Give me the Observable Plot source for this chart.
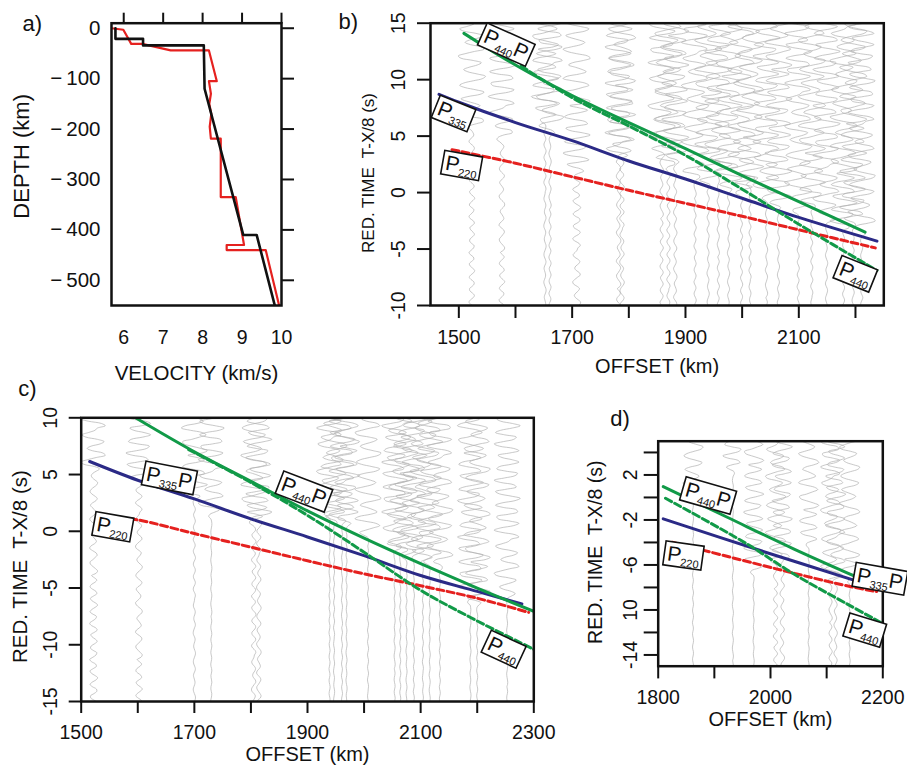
<!DOCTYPE html>
<html><head><meta charset="utf-8">
<script src="https://cdn.jsdelivr.net/npm/d3@7"></script>
<script src="https://cdn.jsdelivr.net/npm/@observablehq/plot@0.6"></script>
<style>
body{margin:0;background:#fff;}
#wrap{position:relative;width:907px;height:773px;overflow:hidden;background:#fff;}
</style></head><body><div id="wrap"></div>
<script>
const FONT = "'Liberation Sans', Arial, Helvetica, sans-serif";
const GREEN = "#119a48", BLUE = "#2b2a86", RED = "#e5211f", TRACE = "#b0b0b0";
const TICK_FONT = 19.5;

// ---------- panel a: velocity-depth models ----------
const aBlackVel   = [5.79, 5.79, 6.49, 6.49, 8.03, 8.05, 9.03, 9.37, 9.83];
const aBlackDepth = [0, -21, -21, -34, -34, -120, -410, -410, -550];
const aRedVel   = [5.69, 5.99, 6.19, 6.47, 7.19, 8.16, 8.36, 8.16, 8.21, 8.17, 8.22, 8.18, 8.21, 8.46, 8.46, 8.84, 9.05, 8.61, 8.61, 9.6, 9.94];
const aRedDepth = [0, -3, -31, -31, -44, -44, -105, -105, -130, -150, -170, -195, -219, -219, -335, -335, -430, -430, -440, -440, -550];
const aXTicks = [6, 7, 8, 9, 10];
const aXLabels = ["6", "7", "8", "9", "10"];
const aYTicks = [0, -100, -200, -300, -400, -500];
const aYLabels = ["0", "\u2212\u2009100", "\u2212\u2009200", "\u2212\u2009300", "\u2212\u2009400", "\u2212\u2009500"];

// ---------- shared trace noise samples (hand-typed) ----------
const NOISE = [0.3, 0.9, 0.6, -0.4, -1.0, -0.5, 0.5, 0.9, 0.2, -0.7, -0.8, 0.1, 0.8, 0.7, -0.3, -0.9,
  -0.4, 0.6, 1.0, 0.3, -0.6, -0.9, -0.1, 0.7, 0.5, -0.5, -1.0, -0.2, 0.6, 0.8, -0.1, -0.8,
  -0.6, 0.3, 0.9, 0.4, -0.4, -0.7, 0.2, 0.9, 0.5, -0.6, -1.0, -0.3, 0.5, 0.7, -0.2, -0.9,
  -0.5, 0.4, 1.0, 0.4, -0.5, -0.8, 0.0, 0.8, 0.6, -0.3, -0.9, -0.6, 0.3, 0.8, 0.2, -0.5,
  0.6, 1.0, 0.5, -0.2, -0.8, -0.9, -0.2, 0.4, 0.9, 0.6, -0.3, -1.0, -0.7, 0.2, 0.7, 0.4,
  -0.1, -0.6, -0.3, 0.5, 1.0, 0.8, 0.0, -0.7, -1.0, -0.4, 0.3, 0.6, 0.2, -0.4, -0.8, -0.3,
  0.6, 0.9, 0.3, -0.5, -0.9, -0.6, 0.1, 0.8, 1.0, 0.4, -0.3, -0.6, -0.2, 0.4, 0.7, 0.1,
  -0.8, -1.0, -0.5, 0.2, 0.9, 0.7, -0.1, -0.5, -0.2, 0.5, 0.8, 0.3, -0.6, -0.9, -0.4, 0.1];
const STEP = 0.2;

// ---------- panel b ----------
const bTraceOffsets = [1523, 1576, 1652, 1661, 1708, 1782, 1788, 1858, 1870, 1882, 1917, 1940, 1958, 1976, 1999, 2014, 2043, 2064, 2099, 2123, 2149, 2179, 2196, 2211];
const bTraceOnsets  = [5.5, 4.5, 6.0, 5.0, 1.5, 2.5, 3.0, 3.0, 2.0, 2.5, 1.0, 0.5, 1.5, 0.0, -0.5, 0.5, -1.0, -1.5, -2.0, -1.5, -3.0, -3.5, -3.0, -4.0];
const bTraceQuiet   = [5, 5, 2, 2, 7, 4, 4, 3, 3, 3, 2, 2, 2, 2, 2, 2, 2, 2, 2, 2, 2, 2, 2, 2];
const bTraceShift   = [0, 37, 75, 18, 100, 53, 91, 22, 118, 69, 13, 96, 39, 87, 6, 114, 57, 84, 31, 121, 63, 2, 108, 44];
const bP440PX = [1509, 1600, 1700, 1800, 1900, 2000, 2100, 2217];
const bP440PY = [14.1, 11.3, 8.6, 6.2, 3.9, 1.5, -0.8, -3.5];
const bP440X  = [1610, 1700, 1800, 1900, 2000, 2100, 2238];
const bP440Y  = [11.2, 8.4, 5.9, 3.3, 0.3, -2.8, -6.9];
const bP335X  = [1465, 1500, 1600, 1700, 1800, 1900, 2000, 2100, 2238];
const bP335Y  = [8.7, 8.0, 6.2, 4.6, 2.8, 1.2, -0.5, -2.2, -4.3];
const bP220X  = [1488, 1600, 1700, 1800, 1900, 2000, 2100, 2235];
const bP220Y  = [3.8, 2.6, 1.4, 0.2, -0.95, -2.1, -3.3, -4.9];
const bXTicks = [1500, 1600, 1700, 1800, 1900, 2000, 2100, 2200];
const bXLabels = ["1500", "", "1700", "", "1900", "", "2100", ""];
const bYTicks = [-10, -5, 0, 5, 10, 15];
const bYLabels = ["-10", "-5", "0", "5", "10", "15"];
const bLabels = [
  {x: 1585, y: 13.1, sub: "440", tail: "P", rot: 24},
  {x: 1492, y: 7.0, sub: "335", tail: "", rot: 22},
  {x: 1506, y: 2.4, sub: "220", tail: "", rot: 10},
  {x: 2201, y: -7.2, sub: "440", tail: "", rot: 22}];

// ---------- panel c ----------
const cTraceOffsets = [1522, 1602, 1700, 1730, 1805, 1814, 1939, 1947, 1961, 1969, 2007, 2054, 2064, 2075, 2088, 2104, 2116, 2134, 2188, 2200, 2253];
const cTraceOnsets  = [5.0, 4.0, 2.5, 1.0, 0.5, 0.5, 1.0, 0.5, 0.5, 0.3, -0.8, -2.0, -2.3, -2.6, -2.5, -3.0, -3.2, -3.5, -6.5, -6.7, -6.1];
const cTraceQuiet   = [7, 6, 2, 1, 4, 4, 1, 1, 1, 1, 1, 1, 1, 1, 1, 1, 1, 1, 1, 1, 1];
const cTraceShift   = [5, 42, 80, 23, 105, 60, 9, 97, 28, 76, 120, 46, 3, 88, 35, 112, 61, 17, 79, 127, 54];
const cP440PX = [1596, 1700, 1800, 1900, 2000, 2100, 2200, 2300];
const cP440PY = [10.0, 7.0, 4.4, 1.8, -0.6, -2.85, -5.0, -7.06];
const cP440X  = [1690, 1800, 1900, 2000, 2100, 2200, 2300];
const cP440Y  = [7.2, 4.3, 1.4, -1.85, -5.2, -7.9, -10.4];
const cP335X  = [1515, 1600, 1700, 1800, 1900, 2000, 2100, 2200, 2279];
const cP335Y  = [6.15, 4.5, 2.85, 1.1, -0.5, -2.15, -3.9, -5.3, -6.4];
const cP220X  = [1549, 1600, 1700, 1800, 1900, 2000, 2100, 2200, 2291];
const cP220Y  = [1.25, 1.0, -0.2, -1.4, -2.6, -3.75, -4.8, -5.9, -7.15];
const cXTicks = [1500, 1600, 1700, 1800, 1900, 2000, 2100, 2200, 2300];
const cXLabels = ["1500", "", "1700", "", "1900", "", "2100", "", "2300"];
const cYTicks = [-15, -10, -5, 0, 5, 10];
const cYLabels = ["-15", "-10", "-5", "0", "5", "10"];
const cLabels = [
  {x: 1657, y: 4.7, sub: "335", tail: "P", rot: 11},
  {x: 1895, y: 3.5, sub: "440", tail: "P", rot: 21},
  {x: 1557, y: 0.4, sub: "220", tail: "", rot: 10},
  {x: 2248, y: -10.4, sub: "440", tail: "", rot: 25}];

// ---------- panel d ----------
const dTraceOffsets = [1862, 1933, 1970, 2009, 2021, 2068, 2107, 2116, 2141];
const dTraceOnsets  = [-0.7, 2.0, -7.0, -6.0, -6.0, -4.5, -8.0, -8.0, -7.7];
const dTraceQuiet   = [1, 1, 1, 4, 4, 1, 3, 3, 1];
const dTraceShift   = [4, 58, 99, 26, 78, 119, 41, 67, 13];
const dP440PX = [1809, 1923, 2041, 2154];
const dP440PY = [0.97, -1.76, -4.57, -7.09];
const dP440X  = [1813, 1958, 2041, 2136, 2199];
const dP440Y  = [-0.07, -4.13, -6.79, -9.46, -11.18];
const dP335X  = [1809, 1982, 2151];
const dP335Y  = [-1.9, -4.72, -7.39];
const dP220X  = [1825, 2041, 2148, 2189];
const dP220Y  = [-3.98, -6.73, -7.98, -8.36];
const dXTicks = [1800, 1900, 2000, 2100, 2200];
const dXLabels = ["1800", "", "2000", "", "2200"];
const dYTicks = [4, 2, 0, -2, -4, -6, -8, -10, -12, -14];
const dYLabels = ["", "2", "", "-2", "", "-6", "", "10", "", "-14"];
const dLabels = [
  {x: 1890, y: 0.17, sub: "440", tail: "P", rot: 16},
  {x: 1846, y: -5.16, sub: "220", tail: "", rot: 8},
  {x: 2196, y: -7.23, sub: "335", tail: "P", rot: 10},
  {x: 2169, y: -11.8, sub: "440", tail: "", rot: 17}];

// ---------- helpers ----------
const pts = (xs, ys) => xs.map((x, i) => ({x, y: ys[i]}));
const fmt = (ticks, labels) => { const m = new Map(ticks.map((t, i) => [t, labels[i]])); return d => m.get(d) ?? ""; };

function traceRows(offsets, onsets, quiet, shifts, full, t0, t1) {
  const rows = [];
  offsets.forEach((o, i) => {
    for (let k = 0; t0 + k * STEP <= t1; k++) {
      const t = t0 + k * STEP;
      const n = NOISE[(k + shifts[i]) % NOISE.length];
      let w;
      if (t < onsets[i]) w = quiet[i];
      else if (t < onsets[i] + 1) w = quiet[i] + (full - quiet[i]) * (t - onsets[i]);
      else w = full;
      rows.push({k: i, x: o + n * w, y: t});
    }
  });
  return rows;
}

const baseStyle = {background: "transparent", fontFamily: FONT, fontSize: TICK_FONT + "px", color: "#111", overflow: "visible"};
const AX = {fontSize: TICK_FONT, label: null};

function phaseLines(p440P, p440, p335, p220) {
  return [
    Plot.line(p220, {x: "x", y: "y", stroke: RED, strokeWidth: 3, strokeDasharray: "7,3.5", curve: "catmull-rom", clip: true}),
    Plot.line(p335, {x: "x", y: "y", stroke: BLUE, strokeWidth: 3, curve: "catmull-rom", clip: true}),
    Plot.line(p440, {x: "x", y: "y", stroke: GREEN, strokeWidth: 3, strokeDasharray: "7,3.5", curve: "catmull-rom", clip: true}),
    Plot.line(p440P, {x: "x", y: "y", stroke: GREEN, strokeWidth: 3, curve: "catmull-rom", clip: true})
  ];
}

function place(svg, left, top) {
  svg.style.position = "absolute";
  svg.style.left = left + "px";
  svg.style.top = top + "px";
  document.getElementById("wrap").appendChild(svg);
  const s = d3.select(svg);
  s.selectAll("g[aria-label$='tick label']").style("font-size", TICK_FONT + "px").attr("font-size", TICK_FONT);
  s.selectAll("g[aria-label$='tick label'] text").style("font-size", TICK_FONT + "px");
}

function phaseLabels(plot, labels) {
  const sx = plot.scale("x"), sy = plot.scale("y");
  const layer = d3.select(plot).append("g").attr("font-family", FONT).attr("fill", "#111");
  labels.forEach(l => {
    const g = layer.append("g").attr("transform", `translate(${sx.apply(l.x)},${sy.apply(l.y)}) rotate(${l.rot})`);
    const rect = g.append("rect").attr("fill", "white").attr("stroke", "#111").attr("stroke-width", 1.6);
    const t = g.append("text").style("font-size", "21px");
    t.append("tspan").text("P");
    t.append("tspan").text(l.sub).style("font-size", "11px").attr("dy", 4);
    if (l.tail) t.append("tspan").text(l.tail).attr("dy", -4);
    const b = t.node().getBBox();
    t.attr("transform", `translate(${-(b.x + b.width / 2)},${-(b.y + b.height / 2) + 1})`);
    rect.attr("x", -b.width / 2 - 3).attr("y", -b.height / 2 + 1).attr("width", b.width + 6).attr("height", b.height - 1);
  });
}

// ---------- panel a ----------
const plotA = Plot.plot({
  width: 300, height: 390,
  marginLeft: 111, marginRight: 19, marginTop: 22.7, marginBottom: 85,
  x: {domain: [5.69, 10]},
  y: {domain: [-550, 10]},
  style: baseStyle,
  marks: [
    Plot.line(pts(aRedVel, aRedDepth), {x: "x", y: "y", stroke: RED, strokeWidth: 2.2, clip: true}),
    Plot.line(pts(aBlackVel, aBlackDepth), {x: "x", y: "y", stroke: "#111", strokeWidth: 2.6, clip: true}),
    Plot.frame({stroke: "#111", strokeWidth: 2.5}),
    Plot.axisX({...AX, anchor: "bottom", ticks: aXTicks, tickFormat: fmt(aXTicks, aXLabels), tickSize: 0, tickPadding: 25}),
    Plot.axisX({...AX, anchor: "top", ticks: aXTicks, tickFormat: () => "", tickSize: 11, strokeWidth: 2}),
    Plot.axisY({...AX, anchor: "left", ticks: aYTicks, tickFormat: fmt(aYTicks, aYLabels), tickSize: 0, tickPadding: 11}),
    Plot.axisY({...AX, anchor: "right", ticks: aYTicks, tickFormat: () => "", tickSize: 12, strokeWidth: 2}),
    Plot.text(["VELOCITY (km/s)"], {text: d => d, frameAnchor: "bottom", dy: 60, lineAnchor: "top", textAnchor: "middle", fontSize: 20.5}),
    Plot.text(["DEPTH (km)"], {text: d => d, frameAnchor: "left", dx: -90, dy: -8, rotate: -90, textAnchor: "middle", fontSize: 22}),
    Plot.text(["a)"], {text: d => d, frameAnchor: "top-left", dx: -89, dy: -8, textAnchor: "start", lineAnchor: "top", fontSize: 22})
  ]
});
place(plotA, 0, 0);
d3.select(plotA).selectAll("g[aria-label='y-axis tick label'], g[aria-label='y-axis tick label'] text").style("font-size", "20.5px");

// ---------- panel b ----------
const plotB = Plot.plot({
  width: 577, height: 390,
  marginLeft: 100, marginRight: 23.7, marginTop: 22.7, marginBottom: 85,
  x: {domain: [1450, 2250]},
  y: {domain: [-10, 15]},
  style: baseStyle,
  marks: [
    Plot.line(traceRows(bTraceOffsets, bTraceOnsets, bTraceQuiet, bTraceShift, 24, -10.5, 15.5),
      {x: "x", y: "y", z: "k", stroke: TRACE, strokeWidth: 0.7, curve: "catmull-rom", clip: true}),
    ...phaseLines(pts(bP440PX, bP440PY), pts(bP440X, bP440Y), pts(bP335X, bP335Y), pts(bP220X, bP220Y)),
    Plot.frame({stroke: "#111", strokeWidth: 2.5}),
    Plot.axisX({...AX, ticks: bXTicks, tickFormat: fmt(bXTicks, bXLabels), tickSize: 13, tickPadding: 12, strokeWidth: 2}),
    Plot.axisY({...AX, ticks: bYTicks, tickFormat: fmt(bYTicks, bYLabels), tickSize: 13, tickPadding: 12.5, tickRotate: -90, strokeWidth: 2}),
    Plot.text(["OFFSET (km)"], {text: d => d, frameAnchor: "bottom", dy: 53, lineAnchor: "top", textAnchor: "middle", fontSize: 20}),
    Plot.text(["RED. TIME  T-X/8 (s)"], {text: d => d, frameAnchor: "left", dx: -62, dy: 8.6, rotate: -90, textAnchor: "middle", fontSize: 17}),
    Plot.text(["b)"], {text: d => d, frameAnchor: "top-left", dx: -92, dy: -10, textAnchor: "start", lineAnchor: "top", fontSize: 22})
  ]
});
place(plotB, 330, 0);
phaseLabels(plotB, bLabels);

// ---------- panel c ----------
const plotC = Plot.plot({
  width: 560, height: 401,
  marginLeft: 80.7, marginRight: 26.7, marginTop: 45.3, marginBottom: 72,
  x: {domain: [1500, 2300]},
  y: {domain: [-15, 10]},
  style: baseStyle,
  marks: [
    Plot.line(traceRows(cTraceOffsets, cTraceOnsets, cTraceQuiet, cTraceShift, 23, -15.5, 10.5),
      {x: "x", y: "y", z: "k", stroke: TRACE, strokeWidth: 0.7, curve: "catmull-rom", clip: true}),
    ...phaseLines(pts(cP440PX, cP440PY), pts(cP440X, cP440Y), pts(cP335X, cP335Y), pts(cP220X, cP220Y)),
    Plot.frame({stroke: "#111", strokeWidth: 2.5}),
    Plot.axisX({...AX, ticks: cXTicks, tickFormat: fmt(cXTicks, cXLabels), tickSize: 12, tickPadding: 12, strokeWidth: 2}),
    Plot.axisY({...AX, ticks: cYTicks, tickFormat: fmt(cYTicks, cYLabels), tickSize: 12, tickPadding: 12, tickRotate: -90, strokeWidth: 2}),
    Plot.text(["OFFSET (km)"], {text: d => d, frameAnchor: "bottom", dy: 45, lineAnchor: "top", textAnchor: "middle", fontSize: 20}),
    Plot.text(["RED. TIME  T-X/8 (s)"], {text: d => d, frameAnchor: "left", dx: -61, dy: 7, rotate: -90, textAnchor: "middle", fontSize: 20.5}),
    Plot.text(["c)"], {text: d => d, frameAnchor: "top-left", dx: -63, dy: -37, textAnchor: "start", lineAnchor: "top", fontSize: 22})
  ]
});
place(plotC, 0, 372);
phaseLabels(plotC, cLabels);

// ---------- panel d ----------
const plotD = Plot.plot({
  width: 332, height: 383,
  marginLeft: 82.7, marginRight: 24.7, marginTop: 50.7, marginBottom: 107.3,
  x: {domain: [1800, 2200]},
  y: {domain: [-15, 5]},
  style: baseStyle,
  marks: [
    Plot.line(traceRows(dTraceOffsets, dTraceOnsets, dTraceQuiet, dTraceShift, 18, -15.5, 5.5),
      {x: "x", y: "y", z: "k", stroke: TRACE, strokeWidth: 0.7, curve: "catmull-rom", clip: true}),
    ...phaseLines(pts(dP440PX, dP440PY), pts(dP440X, dP440Y), pts(dP335X, dP335Y), pts(dP220X, dP220Y)),
    Plot.frame({stroke: "#111", strokeWidth: 2.5}),
    Plot.axisX({...AX, ticks: dXTicks, tickFormat: fmt(dXTicks, dXLabels), tickSize: 12.7, tickPadding: 11.6, strokeWidth: 2}),
    Plot.axisY({...AX, ticks: dYTicks, tickFormat: fmt(dYTicks, dYLabels), tickSize: 14, tickPadding: 7, tickRotate: -90, strokeWidth: 2}),
    Plot.text(["OFFSET (km)"], {text: d => d, frameAnchor: "bottom", dy: 46, lineAnchor: "top", textAnchor: "middle", fontSize: 20}),
    Plot.text(["RED. TIME  T-X/8 (s)"], {text: d => d, frameAnchor: "left", dx: -62, dy: -1.5, rotate: -90, textAnchor: "middle", fontSize: 19.5}),
    Plot.text(["d)"], {text: d => d, frameAnchor: "top-left", dx: -48, dy: -31, textAnchor: "start", lineAnchor: "top", fontSize: 22})
  ]
});
place(plotD, 575, 390);
phaseLabels(plotD, dLabels);
</script></body></html>
